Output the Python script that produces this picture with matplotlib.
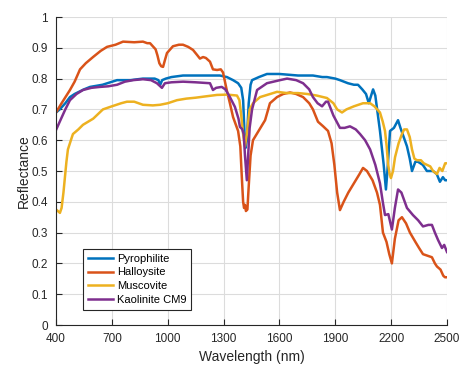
import numpy as np
import matplotlib
matplotlib.use("Agg")
import matplotlib.pyplot as plt

# (wavelength nm, reflectance)
pyrophilite = [(400, 0.69), (420, 0.70), (450, 0.72), (475, 0.74), (500, 0.75), (550, 0.765),
               (583, 0.773), (650, 0.78), (728, 0.795), (800, 0.795), (867, 0.80), (930, 0.80),
               (950, 0.795), (960, 0.78), (970, 0.795), (990, 0.80), (1020, 0.805), (1082, 0.81),
               (1150, 0.81), (1227, 0.81), (1280, 0.81), (1318, 0.805), (1351, 0.795), (1378, 0.785),
               (1395, 0.77), (1405, 0.73), (1412, 0.63), (1418, 0.575), (1425, 0.60), (1435, 0.72),
               (1445, 0.78), (1453, 0.795), (1490, 0.805), (1533, 0.815), (1600, 0.815), (1700, 0.81),
               (1780, 0.81), (1830, 0.805), (1855, 0.805), (1900, 0.80), (1925, 0.795), (1968, 0.785),
               (2000, 0.78), (2022, 0.78), (2045, 0.765), (2065, 0.75), (2080, 0.72), (2090, 0.74),
               (2103, 0.765), (2115, 0.745), (2140, 0.63), (2160, 0.52), (2172, 0.44), (2180, 0.50),
               (2194, 0.63), (2215, 0.64), (2237, 0.665), (2250, 0.64), (2285, 0.58), (2300, 0.54),
               (2312, 0.50), (2330, 0.53), (2344, 0.53), (2370, 0.52), (2392, 0.50), (2425, 0.50),
               (2445, 0.49), (2462, 0.465), (2478, 0.48), (2490, 0.47), (2500, 0.47)]

halloysite = [(400, 0.69), (430, 0.72), (475, 0.763), (500, 0.79), (529, 0.83), (560, 0.85),
              (599, 0.87), (640, 0.89), (674, 0.903), (720, 0.91), (760, 0.92), (820, 0.918),
              (867, 0.92), (890, 0.915), (905, 0.915), (920, 0.905), (935, 0.895), (945, 0.875),
              (955, 0.85), (965, 0.84), (975, 0.838), (985, 0.86), (996, 0.883), (1028, 0.905),
              (1060, 0.91), (1082, 0.91), (1110, 0.903), (1136, 0.893), (1160, 0.875), (1173, 0.865),
              (1190, 0.87), (1205, 0.867), (1227, 0.855), (1243, 0.83), (1265, 0.828), (1285, 0.83),
              (1297, 0.82), (1318, 0.76), (1334, 0.72), (1351, 0.675), (1378, 0.63), (1390, 0.58),
              (1398, 0.48), (1405, 0.40), (1410, 0.38), (1415, 0.39), (1420, 0.37), (1428, 0.375),
              (1435, 0.45), (1445, 0.55), (1458, 0.60), (1485, 0.627), (1523, 0.665), (1549, 0.72),
              (1587, 0.74), (1620, 0.75), (1657, 0.755), (1690, 0.75), (1727, 0.74), (1760, 0.72),
              (1780, 0.70), (1807, 0.66), (1835, 0.645), (1861, 0.63), (1880, 0.59), (1895, 0.52),
              (1910, 0.43), (1925, 0.373), (1945, 0.40), (1970, 0.43), (2000, 0.46), (2030, 0.49),
              (2049, 0.51), (2070, 0.50), (2100, 0.47), (2124, 0.43), (2140, 0.39), (2156, 0.30),
              (2175, 0.27), (2190, 0.23), (2204, 0.20), (2220, 0.28), (2240, 0.34), (2258, 0.35),
              (2280, 0.33), (2301, 0.30), (2330, 0.27), (2350, 0.25), (2371, 0.23), (2395, 0.225),
              (2419, 0.22), (2435, 0.20), (2446, 0.19), (2465, 0.18), (2480, 0.16), (2489, 0.155),
              (2500, 0.155)]

muscovite = [(400, 0.375), (410, 0.37), (421, 0.364), (430, 0.38), (440, 0.43), (448, 0.48),
             (456, 0.53), (464, 0.57), (480, 0.60), (491, 0.62), (520, 0.635), (545, 0.65),
             (600, 0.67), (652, 0.70), (700, 0.71), (750, 0.72), (781, 0.725), (820, 0.725),
             (867, 0.715), (920, 0.713), (959, 0.715), (1000, 0.72), (1050, 0.73), (1100, 0.735),
             (1150, 0.738), (1200, 0.742), (1265, 0.747), (1320, 0.748), (1372, 0.745), (1385, 0.73),
             (1395, 0.68), (1405, 0.62), (1415, 0.58), (1425, 0.62), (1440, 0.70), (1458, 0.72),
             (1496, 0.74), (1550, 0.75), (1587, 0.757), (1641, 0.753), (1700, 0.753), (1750, 0.75),
             (1800, 0.745), (1855, 0.737), (1890, 0.72), (1910, 0.70), (1936, 0.69), (1960, 0.70),
             (2000, 0.71), (2049, 0.72), (2087, 0.72), (2110, 0.71), (2140, 0.69), (2155, 0.66),
             (2167, 0.63), (2176, 0.58), (2183, 0.525), (2192, 0.49), (2199, 0.477), (2210, 0.50),
             (2221, 0.545), (2240, 0.59), (2258, 0.62), (2270, 0.635), (2285, 0.635), (2300, 0.61),
             (2312, 0.57), (2325, 0.54), (2339, 0.535), (2360, 0.535), (2375, 0.525), (2392, 0.52),
             (2410, 0.515), (2425, 0.50), (2446, 0.49), (2460, 0.51), (2475, 0.50), (2490, 0.525),
             (2500, 0.525)]

kaolinite = [(400, 0.633), (420, 0.66), (450, 0.70), (475, 0.73), (510, 0.75), (545, 0.763),
             (590, 0.77), (636, 0.773), (680, 0.775), (728, 0.78), (770, 0.79), (814, 0.795),
             (867, 0.798), (910, 0.795), (942, 0.785), (960, 0.775), (969, 0.77), (985, 0.785),
             (1020, 0.788), (1082, 0.79), (1150, 0.788), (1227, 0.785), (1243, 0.763), (1260, 0.77),
             (1290, 0.773), (1310, 0.765), (1334, 0.74), (1361, 0.708), (1380, 0.67), (1388, 0.643),
             (1400, 0.636), (1408, 0.62), (1415, 0.55), (1425, 0.47), (1432, 0.55), (1440, 0.64),
             (1453, 0.70), (1480, 0.763), (1533, 0.785), (1603, 0.795), (1641, 0.80), (1690, 0.795),
             (1727, 0.785), (1760, 0.765), (1780, 0.74), (1805, 0.72), (1829, 0.71), (1850, 0.725),
             (1861, 0.725), (1890, 0.68), (1925, 0.64), (1950, 0.64), (1979, 0.645), (2010, 0.635),
             (2033, 0.62), (2060, 0.60), (2087, 0.57), (2115, 0.52), (2140, 0.46), (2155, 0.40),
             (2167, 0.357), (2185, 0.36), (2204, 0.31), (2220, 0.38), (2237, 0.44), (2255, 0.43),
             (2285, 0.38), (2317, 0.357), (2345, 0.34), (2371, 0.32), (2400, 0.325), (2419, 0.325),
             (2435, 0.30), (2452, 0.276), (2473, 0.25), (2485, 0.26), (2500, 0.237)]

names = ["Pyrophilite", "Halloysite", "Muscovite", "Kaolinite CM9"]
colors = ["#0072BD", "#D95319", "#EDB120", "#7E2F8E"]
x_ticks = [400, 700, 1000, 1300, 1600, 1900, 2200, 2500]
y_ticks = np.arange(0, 1.01, 0.1)

plt.rcParams['font.family'] = ['Liberation Sans', 'DejaVu Sans']

fig = plt.figure(figsize=(4.62, 3.65), dpi=100)
ax = fig.add_axes([56 / 462, 40 / 365, 391 / 462, 308 / 365])

for spec, name, c in zip([pyrophilite, halloysite, muscovite, kaolinite], names, colors):
    wl, refl = np.array(spec).T
    ax.plot(wl, refl, color=c, lw=1.8, label=name)

ax.set_xlim(400, 2500)
ax.set_ylim(0, 1)
ax.set_xticks(x_ticks)
ax.set_yticks(y_ticks)
ax.set_yticklabels([f"{v:g}" for v in np.round(y_ticks, 1)])
ax.grid(color="#dcdcdc", lw=0.8)
ax.set_axisbelow(True)
for s in ["top", "right"]:
    ax.spines[s].set_visible(False)
for s in ["left", "bottom"]:
    ax.spines[s].set_color("#262626")
ax.tick_params(direction="in", length=4, colors="#262626", labelsize=8.5)
ax.tick_params(axis="x", pad=6)
ax.tick_params(axis="y", pad=6)
ax.set_xlabel("Wavelength (nm)", fontsize=10, color="#262626", labelpad=3)
ax.set_ylabel("Reflectance", fontsize=10, color="#262626", labelpad=0)

leg = ax.legend(loc="lower left", bbox_to_anchor=(0.055, 0.03), fontsize=8,
                fancybox=False, framealpha=1, edgecolor="#262626",
                handlelength=2.2, borderpad=0.45, labelspacing=0.35, handletextpad=0.4)
leg.get_frame().set_linewidth(0.8)

fig.savefig("out.png", dpi=100)
